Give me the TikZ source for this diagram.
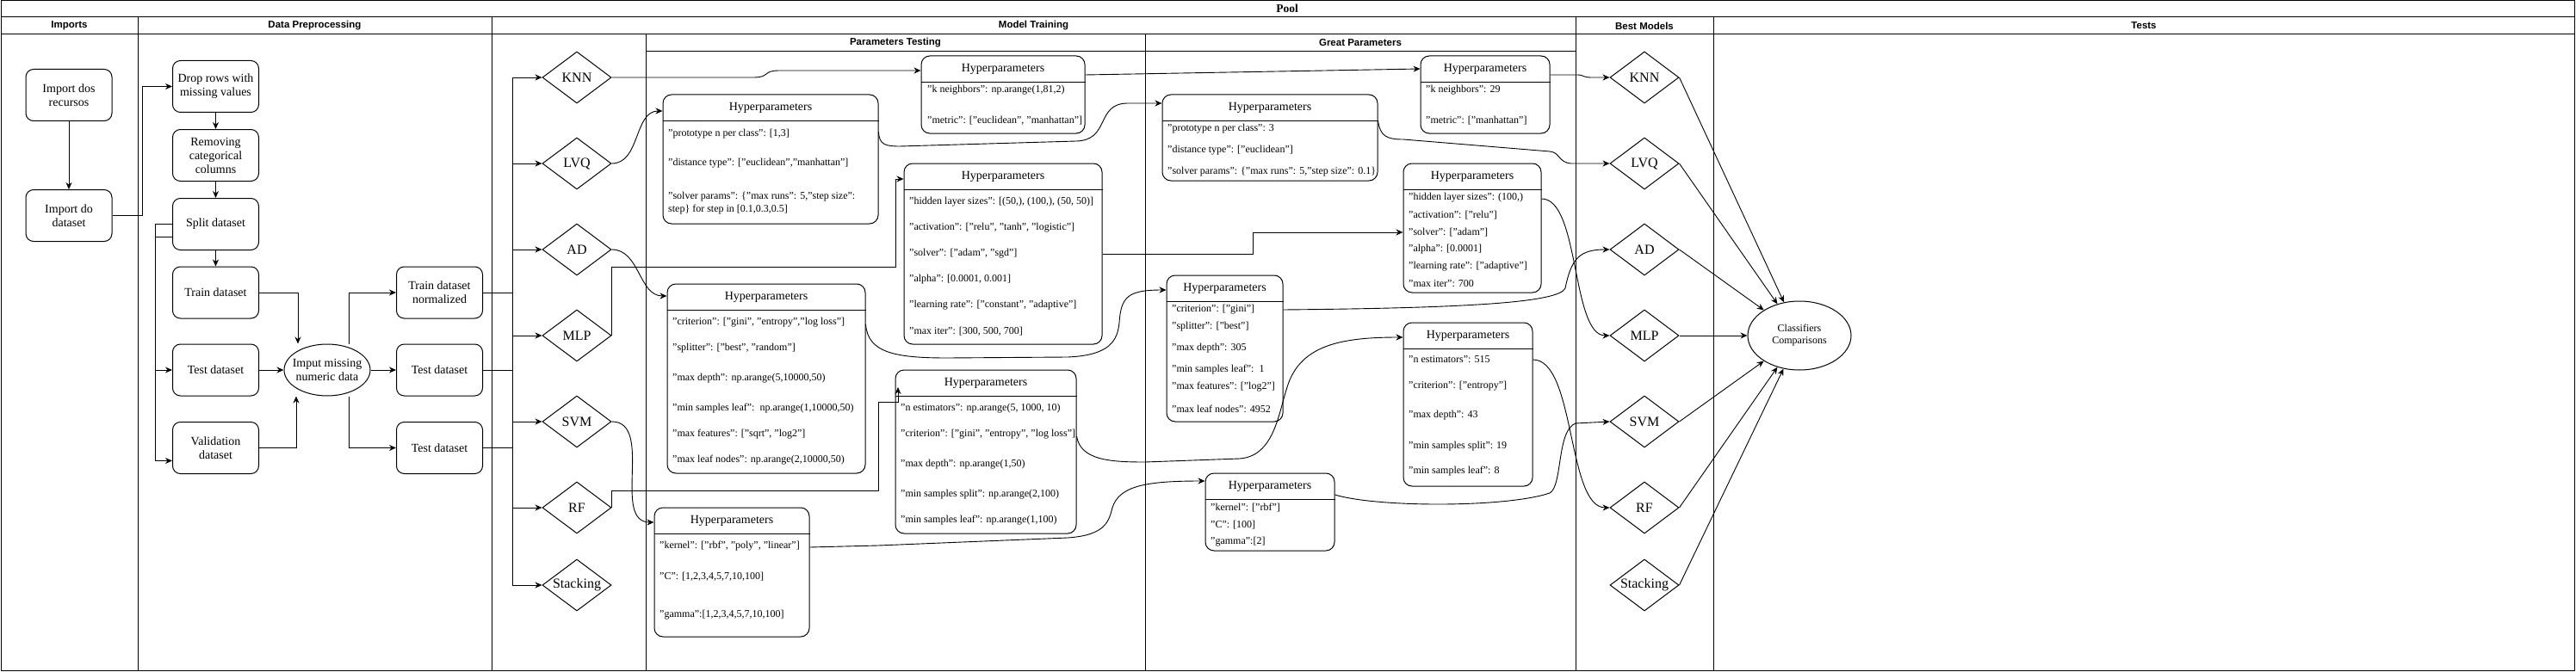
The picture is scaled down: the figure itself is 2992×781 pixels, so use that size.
\documentclass[tikz,border=0pt]{standalone}
\usepackage{fontspec}
\setmainfont{Liberation Serif}
\setsansfont{Liberation Sans}
\usepackage{tikz}
\usetikzlibrary{shapes.geometric, arrows.meta, positioning, calc}
\tikzset{
  lane/.style={draw, line width=1pt},
  hdr/.style={font=\sffamily\bfseries\fontsize{11.5}{13}\selectfont},
  procbox/.style={rectangle, draw, rounded corners=9pt,
    minimum width=100pt, minimum height=60pt, align=center,
    font=\fontsize{14}{16}\selectfont, line width=1pt, inner sep=1pt},
  procell/.style={ellipse, draw, minimum width=100pt, minimum height=60pt,
    inner sep=0pt, line width=1pt},
  model/.style={diamond, draw, aspect=1.333, minimum width=80pt,
    minimum height=60pt, inner sep=0pt,
    font=\fontsize{16}{18}\selectfont, line width=1pt},
  hpbox/.style={rectangle, draw, rounded corners=10pt, line width=1pt, inner sep=0pt},
  hptitle/.style={font=\fontsize{14}{16}\selectfont, inner sep=0pt},
  item/.style={anchor=west, align=left, font=\fontsize{12}{15}\selectfont, inner sep=0pt},
  arrow/.style={-{Stealth[length=8pt,width=7pt]}, line width=0.9pt},
  line/.style={line width=0.9pt}
}

\begin{document}
\begin{tikzpicture}[x=1pt, y=-1pt]
  \useasboundingbox (0,0) rectangle (2992,781);

  % pool and lanes
  \draw[lane] (1,1) rectangle (2990,779);
  \draw[lane] (1,20) -- (2990,20);
  \draw[lane] (1,40) -- (2990,40);
  \draw[lane] (750,60) -- (1830,60);
  \foreach \xx in {160,571,1830,1990} \draw[lane] (\xx,20) -- (\xx,779);
  \foreach \xx in {750,1330} \draw[lane] (\xx,40) -- (\xx,779);

  \node[font=\bfseries\fontsize{13.5}{15}\selectfont] (pool) at (1495,10) {Pool};
  \node[hdr] (hImp) at (80.5,30) {Imports};
  \node[hdr] (hPre) at (365.5,30) {Data Preprocessing};
  \node[hdr] (hTrain) at (1200.5,30) {Model Training};
  \node[hdr] (hBest) at (1910,30) {Best Models};
  \node[hdr] (hTests) at (2490,30) {Tests};
  \node[hdr] (hTest) at (1040,50) {Parameters Testing};
  \node[hdr] (hGreat) at (1580,50) {Great Parameters};

  % imports + preprocessing
  \node[procbox] (recursos) at (80,110.5) {Import dos\\recursos};
  \node[procbox] (dataset) at (80,250.5) {Import do\\dataset};
  \node[procbox] (drop) at (250.5,100.5) {Drop rows with\\missing values};
  \node[procbox] (remcat) at (250.5,180.5) {Removing\\categorical\\columns};
  \node[procbox] (split) at (250.5,260.5) {Split dataset};
  \node[procbox] (train) at (250.5,340) {Train dataset};
  \node[procbox] (test) at (250.5,430) {Test dataset};
  \node[procbox] (valid) at (250.5,520.5) {Validation\\dataset};
  \node[procell] (imput) at (380,430) {};
  \node[align=center, font=\fontsize{14}{16}\selectfont] (imputT) at (imput) {Imput missing\\numeric data};
  \node[procbox] (trainn) at (510.5,340) {Train dataset\\normalized};
  \node[procbox] (testn) at (510.5,430) {Test dataset};
  \node[procbox] (valn) at (510.5,520.5) {Test dataset};

  \draw[arrow] (recursos) -- (dataset);
  \draw[arrow] (dataset.east) -- ++(35,0) |- (drop.west);
  \draw[arrow] (drop) -- (remcat);
  \draw[arrow] (remcat) -- (split);
  \draw[arrow] (split) -- (train);
  \draw[arrow] (split.west) -- ++(-20,0) |- (test.west);
  \draw[arrow] ([yshift=-15pt]split.west) -- ++(-20,0) |- ([yshift=-15pt]valid.west);
  \draw[arrow] (train.east) -| ([xshift=-34pt]imput.north);
  \draw[arrow] (test) -- (imput);
  \draw[arrow] (valid.east) -| ([xshift=-36pt]imput.south);
  \draw[arrow] ([xshift=25pt]imput.north) |- (trainn.west);
  \draw[arrow] (imput) -- (testn);
  \draw[arrow] ([xshift=25pt]imput.south) |- (valn.west);

  % bus to the models
  \coordinate (bus) at (595,0);
  \draw[line] (trainn.east) -- (bus |- trainn.east);
  \draw[line] (testn.east) -- (bus |- testn.east);
  \draw[line] (valn.east) -- (bus |- valn.east);
  \draw[line] (bus |- 0,90) -- (bus |- 0,680);

  \node[ellipse, draw, line width=1pt, minimum width=120pt, minimum height=80pt,
    inner sep=0pt, align=center, font=\fontsize{12}{14}\selectfont] (cmp) at (2090,390)
    {Classifiers\\Comparisons};

  \foreach \n/\lab/\yy in {knn/KNN/90, lvq/LVQ/190, ad/AD/290, mlp/MLP/390,
      svm/SVM/490, rf/RF/590, stk/Stacking/680} {
    \node[model] (m\n) at (670,\yy) {\lab};
    \node[model] (b\n) at (1910,\yy) {\lab};
    \draw[arrow] (bus |- m\n.west) -- (m\n.west);
    \draw[arrow] (b\n.east) -- (cmp);
  }

  % parameters testing
  \node[hpbox, minimum width=190pt, minimum height=90pt] (tknn) at (1165,110) {};
  \node[hptitle] (tknnT) at (1165,80) {Hyperparameters};
  \draw[line] (tknn.west |- 0,95) -- (tknn.east |- 0,95);
  \foreach \i/\yy/\txt in {1/105/{"k neighbors": np.arange(1,81,2)},
      2/140/{"metric": ["euclidean", "manhattan"]}}
    \node[item] (tknn\i) at (1077,\yy) {\txt};

  \node[hpbox, minimum width=250pt, minimum height=150pt] (tlvq) at (895,185) {};
  \node[hptitle] (tlvqT) at (895,125) {Hyperparameters};
  \draw[line] (tlvq.west |- 0,140) -- (tlvq.east |- 0,140);
  \foreach \i/\yy/\txt in {1/156/{"prototype n per class": [1,3]},
      2/190/{"distance type": ["euclidean","manhattan"]},
      3/236/{"solver params": \{"max runs": 5,"step size":\\step\} for step in [0.1,0.3,0.5]}}
    \node[item] (tlvq\i) at (776,\yy) {\txt};

  \node[hpbox, minimum width=230pt, minimum height=210pt] (tmlp) at (1165,295) {};
  \node[hptitle] (tmlpT) at (1165,205) {Hyperparameters};
  \draw[line] (tmlp.west |- 0,220) -- (tmlp.east |- 0,220);
  \foreach \i/\yy/\txt in {1/235/{"hidden layer sizes": [(50,), (100,), (50, 50)]},
      2/265/{"activation": ["relu", "tanh", "logistic"]},
      3/295/{"solver": ["adam", "sgd"]},
      4/325/{"alpha": [0.0001, 0.001]},
      5/355/{"learning rate": ["constant", "adaptive"]},
      6/385/{"max iter": [300, 500, 700]}}
    \node[item] (tmlp\i) at (1056,\yy) {\txt};

  \node[hpbox, minimum width=230pt, minimum height=220pt] (tad) at (890,440) {};
  \node[hptitle] (tadT) at (890,345) {Hyperparameters};
  \draw[line] (tad.west |- 0,360) -- (tad.east |- 0,360);
  \foreach \i/\yy/\txt in {1/375/{"criterion": ["gini", "entropy","log loss"]},
      2/405/{"splitter": ["best", "random"]},
      3/440/{"max depth": np.arange(5,10000,50)},
      4/475/{"min samples leaf":\ \ np.arange(1,10000,50)},
      5/505/{"max features": ["sqrt", "log2"]},
      6/535/{"max leaf nodes": np.arange(2,10000,50)}}
    \node[item] (tad\i) at (781,\yy) {\txt};

  \node[hpbox, minimum width=210pt, minimum height=190pt] (trf) at (1145,525) {};
  \node[hptitle] (trfT) at (1145,445) {Hyperparameters};
  \draw[line] (trf.west |- 0,460) -- (trf.east |- 0,460);
  \foreach \i/\yy/\txt in {1/475/{"n estimators": np.arange(5, 1000, 10)},
      2/505/{"criterion": ["gini", "entropy", "log loss"]},
      3/540/{"max depth": np.arange(1,50)},
      4/575/{"min samples split": np.arange(2,100)},
      5/605/{"min samples leaf": np.arange(1,100)}}
    \node[item] (trf\i) at (1046,\yy) {\txt};

  \node[hpbox, minimum width=180pt, minimum height=150pt] (tsvm) at (850,665) {};
  \node[hptitle] (tsvmT) at (850,605) {Hyperparameters};
  \draw[line] (tsvm.west |- 0,620) -- (tsvm.east |- 0,620);
  \foreach \i/\yy/\txt in {1/635/{"kernel": ["rbf", "poly", "linear"]},
      2/670/{"C": [1,2,3,4,5,7,10,100]},
      3/715/{"gamma":[1,2,3,4,5,7,10,100]}}
    \node[item] (tsvm\i) at (766,\yy) {\txt};

  % great parameters
  \node[hpbox, minimum width=150pt, minimum height=90pt] (gknn) at (1725,110) {};
  \node[hptitle] (gknnT) at (1725,80) {Hyperparameters};
  \draw[line] (gknn.west |- 0,95) -- (gknn.east |- 0,95);
  \foreach \i/\yy/\txt in {1/105/{"k neighbors": 29}, 2/140/{"metric": ["manhattan"]}}
    \node[item] (gknn\i) at (1656,\yy) {\txt};

  \node[hpbox, minimum width=250pt, minimum height=100pt] (glvq) at (1475,160) {};
  \node[hptitle] (glvqT) at (1475,125) {Hyperparameters};
  \draw[line] (glvq.west |- 0,140) -- (glvq.east |- 0,140);
  \foreach \i/\yy/\txt in {1/150/{"prototype n per class": 3},
      2/175/{"distance type": ["euclidean"]},
      3/200/{"solver params": \{"max runs": 5,"step size": 0.1\}}}
    \node[item] (glvq\i) at (1356,\yy) {\txt};

  \node[hpbox, minimum width=160pt, minimum height=150pt] (gmlp) at (1710,265) {};
  \node[hptitle] (gmlpT) at (1710,205) {Hyperparameters};
  \draw[line] (gmlp.west |- 0,220) -- (gmlp.east |- 0,220);
  \foreach \i/\yy/\txt in {1/230/{"hidden layer sizes": (100,)},
      2/250/{"activation": ["relu"]},
      3/270/{"solver": ["adam"]},
      4/290/{"alpha": [0.0001]},
      5/310/{"learning rate": ["adaptive"]},
      6/330/{"max iter": 700}}
    \node[item] (gmlp\i) at (1636,\yy) {\txt};

  \node[hpbox, minimum width=135pt, minimum height=170pt] (gad) at (1422.5,405) {};
  \node[hptitle] (gadT) at (1422.5,335) {Hyperparameters};
  \draw[line] (gad.west |- 0,350) -- (gad.east |- 0,350);
  \foreach \i/\yy/\txt in {1/360/{"criterion": ["gini"]},
      2/380/{"splitter": ["best"]},
      3/405/{"max depth": 305},
      4/430/{"min samples leaf":\ \ 1},
      5/450/{"max features": ["log2"]},
      6/475/{"max leaf nodes": 4952}}
    \node[item] (gad\i) at (1361,\yy) {\txt};

  \node[hpbox, minimum width=150pt, minimum height=190pt] (grf) at (1705,470) {};
  \node[hptitle] (grfT) at (1705,390) {Hyperparameters};
  \draw[line] (grf.west |- 0,405) -- (grf.east |- 0,405);
  \foreach \i/\yy/\txt in {1/418/{"n estimators": 515},
      2/449/{"criterion": ["entropy"]},
      3/483/{"max depth": 43},
      4/519/{"min samples split": 19},
      5/548/{"min samples leaf": 8}}
    \node[item] (grf\i) at (1636,\yy) {\txt};

  \node[hpbox, minimum width=150pt, minimum height=90pt] (gsvm) at (1475,595) {};
  \node[hptitle] (gsvmT) at (1475,565) {Hyperparameters};
  \draw[line] (gsvm.west |- 0,580) -- (gsvm.east |- 0,580);
  \foreach \i/\yy/\txt in {1/590/{"kernel": ["rbf"]}, 2/610/{"C": [100]},
      3/630/{"gamma":[2]}}
    \node[item] (gsvm\i) at (1406,\yy) {\txt};

  % models -> testing
  \draw[arrow] (mknn.east) -- (875,90) .. controls (895,90) and (885,82) .. (905,82) -- (tknn.west |- 0,82);
  \draw[arrow] (mlvq.east) to[out=0,in=180] (tlvq.west |- 0,129);
  \draw[arrow] (mad.east) to[out=0,in=180] (tad.west |- 0,344);
  \draw[arrow] (mmlp.east) |- (1040,310) |- (tmlp.west |- 0,208);
  \draw[arrow] (msvm.east) to[out=0,in=180] (tsvm.west |- 0,607);
  \draw[arrow] (mrf.east) |- (1020,570) |- (1043,467) -- (1043,450);

  % testing -> great
  \draw[arrow] (tknn.east |- 0,87) -- (gknn.west |- 0,80);
  \draw[arrow] (tlvq.east |- 0,153) .. controls (1021,168) and (1028,170) .. (1045,170)
    -- (1250,164) .. controls (1290,163) and (1272,120) .. (1310,120) -- (glvq.west |- 0,120);
  \draw[arrow] (tmlp.east |- 0,295) -- (1455,295) |- (gmlp.west |- 0,270);
  \draw[arrow] (tad.east |- 0,377) .. controls (1008,410) and (1040,416) .. (1100,416)
    -- (1240,415) .. controls (1290,413) and (1298,395) .. (1300,375)
    .. controls (1302,345) and (1310,337) .. (gad.west |- 0,337);
  \draw[arrow] (trf.east |- 0,507) .. controls (1255,535) and (1290,537) .. (1330,537)
    -- (1440,533) .. controls (1480,530) and (1485,480) .. (1495,450)
    .. controls (1510,400) and (1560,392) .. (grf.west |- 0,392);
  \draw[arrow] (tsvm.east |- 0,636) -- (1020,634) -- (1240,625)
    .. controls (1285,622) and (1288,605) .. (1292,590)
    .. controls (1300,565) and (1330,559) .. (gsvm.west |- 0,559);

  % great -> best
  \draw[arrow] (gknn.east |- 0,87) -- (1832,87) .. controls (1840,87) and (1838,90) .. (1848,90) -- (bknn.west);
  \draw[arrow] (glvq.east |- 0,140) .. controls (1603,158) and (1610,162) .. (1630,162)
    -- (1800,176) .. controls (1812,177) and (1810,189) .. (1825,190) -- (blvq.west);
  \draw[arrow] (gmlp.east |- 0,231) .. controls (1835,231) and (1825,390) .. (bmlp.west);
  \draw[arrow] (gad.east |- 0,360) .. controls (1700,358) and (1810,352) .. (1818,335)
    .. controls (1825,300) and (1835,290) .. (bad.west);
  \draw[arrow] (grf.east |- 0,418) .. controls (1830,418) and (1820,590) .. (brf.west);
  \draw[arrow] (gsvm.east |- 0,575) .. controls (1600,590) and (1750,590) .. (1800,573)
    .. controls (1815,565) and (1808,500) .. (1830,492) -- (bsvm.west);
\end{tikzpicture}
\end{document}
